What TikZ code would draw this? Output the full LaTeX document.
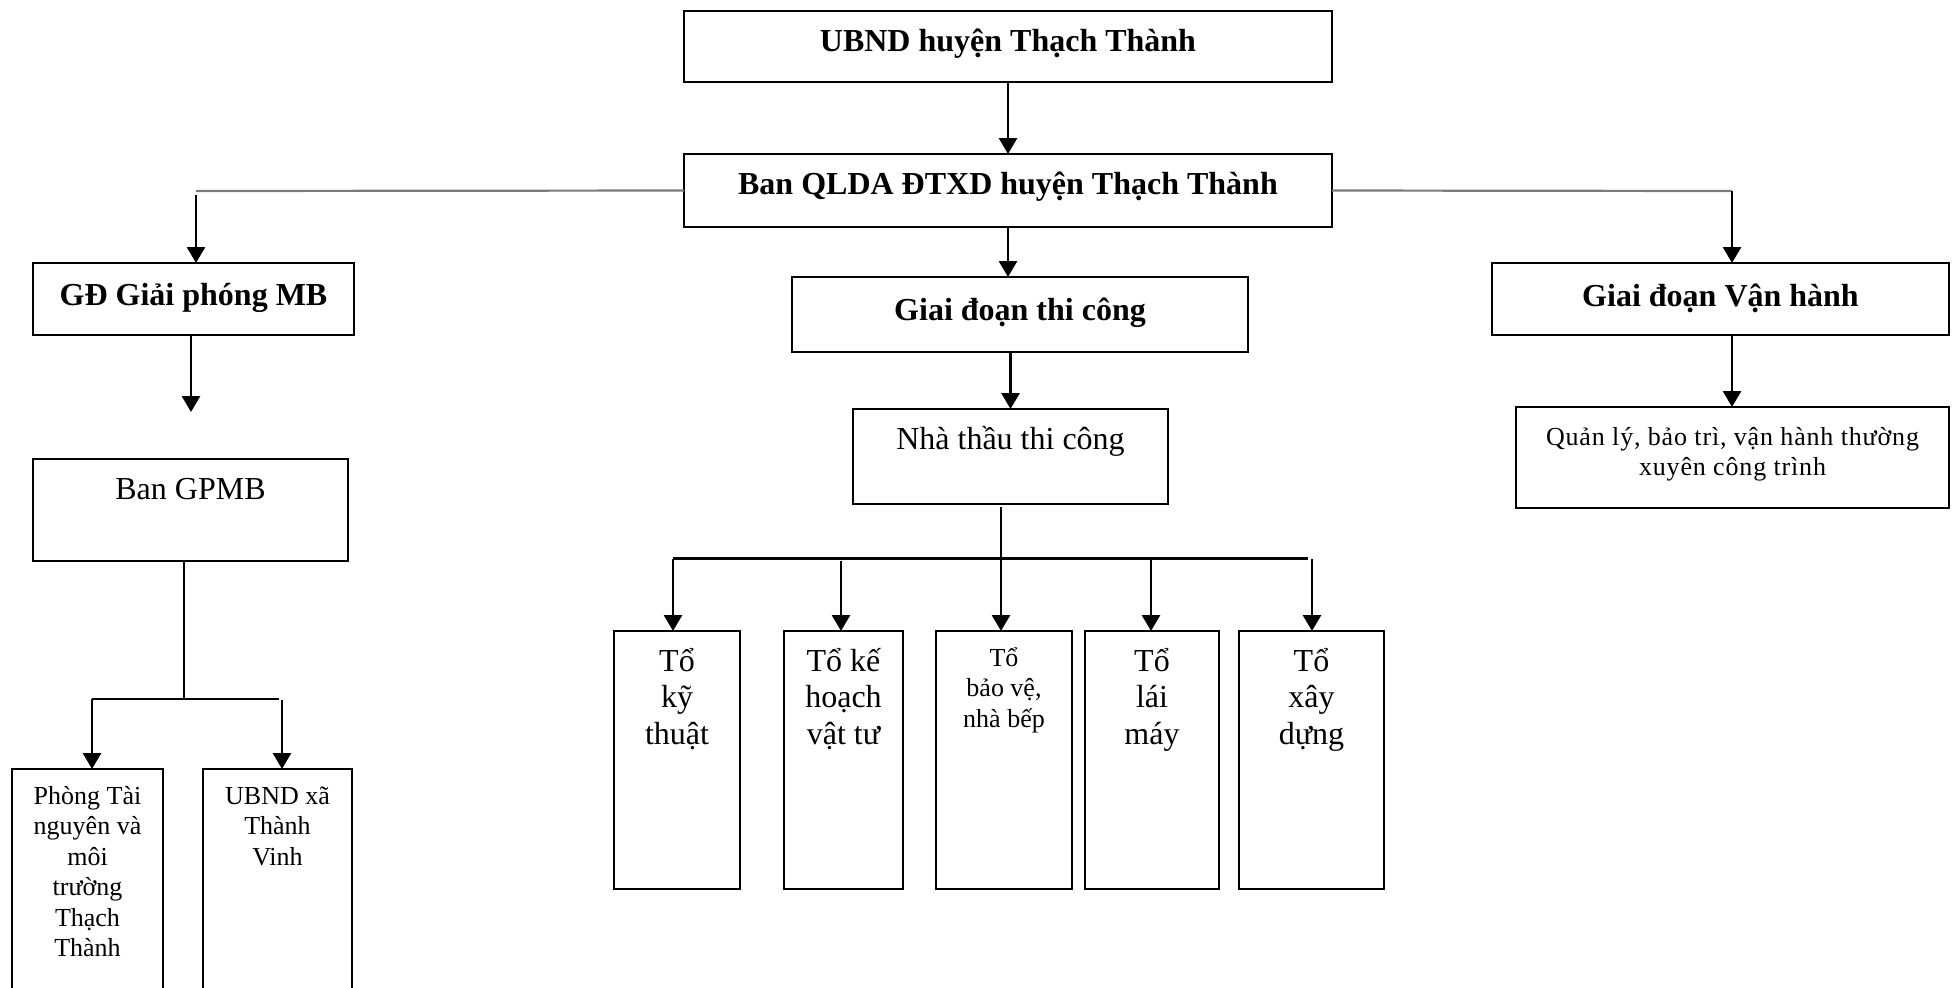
\documentclass[tikz,border=0pt]{standalone}
\usepackage{fontspec}
\setmainfont{Liberation Serif}
\newfontfamily\spacedserif[LetterSpace=3.2]{Liberation Serif}
\usetikzlibrary{arrows.meta}
\definecolor{linegrey}{HTML}{7A7A7A}
\tikzset{
  box/.style={draw, line width=1.2pt, inner sep=0pt, outer sep=0pt},
  arr/.style={line width=1.4pt, -{Triangle[length=8pt,width=9pt]}},
  conn/.style={line width=1.4pt},
  greyline/.style={draw=linegrey, line width=1.1pt},
  bigb/.style={anchor=base, inner sep=0pt, font=\fontsize{16}{18.25}\selectfont\bfseries},
  big/.style={anchor=base, inner sep=0pt, font=\fontsize{16}{18.25}\selectfont},
  small/.style={anchor=base, inner sep=0pt, font=\fontsize{13}{15.25}\selectfont},
}
\begin{document}
\begin{tikzpicture}[x=0.5pt,y=-0.5pt]
\useasboundingbox (0,0) rectangle (1957,987);
\fill[white] (0,0) rectangle (1957,987);
\clip (0,0) rectangle (1957,987);

% boxes
\node[box, minimum width=324pt, minimum height=35.5pt] (ubnd) at (1008,46.5) {};
\node[box, minimum width=324pt, minimum height=36.5pt] (ban) at (1008,190.5) {};
\node[box, minimum width=160.5pt, minimum height=36pt] (gd) at (193.5,299) {};
\node[box, minimum width=228pt, minimum height=37.5pt] (tc) at (1020,314.5) {};
\node[box, minimum width=228.5pt, minimum height=36pt] (vh) at (1720.5,299) {};
\node[box, minimum width=157.5pt, minimum height=51pt] (gpmb) at (190.5,510) {};
\node[box, minimum width=157.5pt, minimum height=47.5pt] (nt) at (1010.5,456.5) {};
\node[box, minimum width=216.5pt, minimum height=50.5pt] (ql) at (1732.5,457.5) {};
\node[box, minimum width=75.5pt, minimum height=120.5pt] (ptn) at (87.5,889.5) {};
\node[box, minimum width=74.5pt, minimum height=120.5pt] (ubx) at (277.5,889.5) {};
\node[box, minimum width=63pt, minimum height=129pt] (t1) at (677,760) {};
\node[box, minimum width=59.5pt, minimum height=129pt] (t2) at (843.5,760) {};
\node[box, minimum width=68pt, minimum height=129pt] (t3) at (1004,760) {};
\node[box, minimum width=67pt, minimum height=129pt] (t4) at (1152,760) {};
\node[box, minimum width=72.5pt, minimum height=129pt] (t5) at (1311.5,760) {};

% texts
\node[bigb] (ubndT) at (1008,51) {UBND huyện Thạch Thành};
\node[bigb] (banT) at (1008,194) {Ban QLDA ĐTXD huyện Thạch Thành};
\node[bigb] (gdT) at (193.5,305) {GĐ Giải phóng MB};
\node[bigb] (tcT) at (1020,320) {Giai đoạn thi công};
\node[bigb] (vhT) at (1720.5,306) {Giai đoạn Vận hành};
\node[big] (gpmbT) at (190.5,499) {Ban GPMB};
\node[big] (ntT) at (1010.5,449) {Nhà thầu thi công};
\node[small] (qlT) at (1732.5,445) {\spacedserif\begin{tabular}[t]{@{}c@{}}Quản lý, bảo trì, vận hành thường\\xuyên công trình\end{tabular}};
\node[small] (ptnT) at (87.5,804) {\begin{tabular}[t]{@{}c@{}}Phòng Tài\\nguyên và\\môi\\trường\\Thạch\\Thành\end{tabular}};
\node[small] (ubxT) at (277.5,804) {\begin{tabular}[t]{@{}c@{}}UBND xã\\Thành\\Vinh\end{tabular}};
\node[big] (t1T) at (677,671) {\begin{tabular}[t]{@{}c@{}}Tổ\\kỹ\\thuật\end{tabular}};
\node[big] (t2T) at (843.5,671) {\begin{tabular}[t]{@{}c@{}}Tổ kế\\hoạch\\vật tư\end{tabular}};
\node[small] (t3T) at (1004,666) {\begin{tabular}[t]{@{}c@{}}Tổ\\bảo vệ,\\nhà bếp\end{tabular}};
\node[big] (t4T) at (1152,671) {\begin{tabular}[t]{@{}c@{}}Tổ\\lái\\máy\end{tabular}};
\node[big] (t5T) at (1311.5,671) {\begin{tabular}[t]{@{}c@{}}Tổ\\xây\\dựng\end{tabular}};

% coordinates for free ends and junctions
\coordinate (cL) at (196,191);
\coordinate (cLd) at (196,195);
\coordinate (cR) at (1732,191);
\coordinate (gdEnd) at (191,412);
\coordinate (gJ) at (184,699);
\coordinate (gL) at (92,699);
\coordinate (gR) at (279,699);
\coordinate (gR2) at (282,700);
\coordinate (nJ) at (1001,507);
\coordinate (hL) at (673,558.5);
\coordinate (hR) at (1308,558.5);
\coordinate (a2) at (841,561);
\coordinate (a4) at (1151,558.5);
\coordinate (a5) at (1312,558.5);

% connectors
\draw[arr] (ubnd.south) -- (ban.north);
\draw[greyline] (ban.west) -- (cL);
\draw[greyline] (ban.east) -- (cR);
\draw[arr] (cLd) -- (cLd |- gd.north);
\draw[arr] (cR) -- (cR |- vh.north);
\draw[arr] (ban.south) -- (ban.south |- tc.north);
\draw[arr] (tc.south -| nt.north) -- (nt.north);
\draw[arr] (gdEnd |- gd.south) -- (gdEnd);
\draw[conn] (gJ |- gpmb.south) -- (gJ);
\draw[conn] (gL) -- (gR);
\draw[arr] (gL) -- (gL |- ptn.north);
\draw[arr] (gR2) -- (gR2 |- ubx.north);
\draw[arr] (cR |- vh.south) -- (cR |- ql.north);
\draw[arr] (nJ) -- (nJ |- t3.north);
\draw[conn] (hL) -- (hR);
\draw[arr] (hL) -- (hL |- t1.north);
\draw[arr] (a2) -- (a2 |- t2.north);
\draw[arr] (a4) -- (a4 |- t4.north);
\draw[arr] (a5) -- (a5 |- t5.north);
\end{tikzpicture}
\end{document}
